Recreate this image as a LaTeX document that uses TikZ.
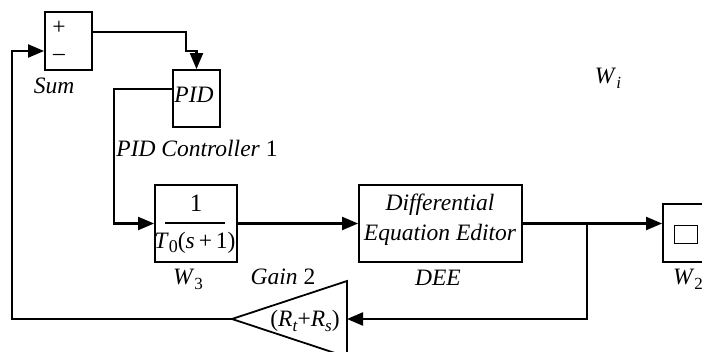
\documentclass[tikz,border=0pt]{standalone}
\usepackage{fontspec}
\setmainfont{Liberation Serif}
\usetikzlibrary{arrows.meta}
\newcommand{\lbsub}[1]{\raisebox{-0.22em}{\fontsize{17}{17}\selectfont #1}}
\newcommand{\lbsubb}[1]{\raisebox{-0.18em}{\fontsize{18}{18}\selectfont #1}}
\begin{document}
\begin{tikzpicture}[x=1pt,y=-1pt,
  blk/.style={draw,line width=1.8pt,inner sep=0pt},
  conn/.style={line width=2.1pt},
  arr/.style={conn,-{Triangle[length=16pt,width=13pt]}},
  txt/.style={inner sep=0pt,font=\fontsize{23.5}{27}\selectfont},
  lbl/.style={inner sep=0pt,font=\fontsize{23.5}{27}\selectfont\itshape},
  frac/.style={inner sep=0pt,font=\fontsize{25}{30}\selectfont},
  dens/.style={inner sep=0pt,font=\fontsize{23.5}{27}\selectfont}
]
\useasboundingbox (0,0) rectangle (702,352);
\clip (0,0) rectangle (702,352);
% blocks
\node[blk,minimum width=47pt,minimum height=58pt] (sum) at (68.5,41) {};
\node[txt] (plus) at (59,28) {+};
\node[txt] (minus) at (59,57) {\char"2013};
\node[lbl] (sumlbl) at (54,86) {Sum};

\node[blk,minimum width=47pt,minimum height=57pt] (pid) at (196.5,98.5) {};
\node[lbl] (pidtxt) at (194,95) {PID};
\node[txt] (pidlbl) at (197,148) {\textit{PID Controller} 1};

\node[blk,minimum width=82pt,minimum height=77pt] (w3) at (196,223.5) {};
\node[frac] (num) at (196,203) {1};
\draw[line width=1.1pt] (165,223) coordinate (fl) -- (225,223) coordinate (fr);
\node[dens] (den) at (195,243) {\textit{T}\lbsubb{0}(\textit{s}\,+\,1)};
\node[txt] (w3lbl) at (188,279) {\textit{W}\lbsub{3}};

\node[blk,minimum width=163pt,minimum height=77pt] (dee) at (440.5,223.5) {};
\node[lbl] (d1) at (440,205) {Differential};
\node[lbl] (d2) at (440,235) {Equation Editor};
\node[lbl] (deelbl) at (438,278) {DEE};

\node[blk,minimum width=45pt,minimum height=58pt] (w2) at (685.5,233) {};
\node[draw,line width=0.8pt,minimum width=23pt,minimum height=18pt,inner sep=0pt] (w2in) at (685.5,234) {};
\node[txt] (w2lbl) at (688,279) {\textit{W}\lbsub{2}};

\node[txt] (wi) at (608,78) {\textit{W}\lbsub{\textit{i}}};

% gain triangle
\coordinate (gtip) at (232,319);
\coordinate (gtop) at (347,281);
\coordinate (gbot) at (347,357);
\coordinate (gin) at (347,319);
\draw[line width=1.8pt,line join=miter] (gtip) -- (gtop) -- (gbot) -- cycle;
\node[txt] (gtxt) at (305,321) {(\textit{R}\lbsub{\textit{t}}+\textit{R}\lbsub{\textit{s}})};
\node[lbl] (gainlbl) at (283,277) {Gain \upshape 2};

% connectors
\draw[arr] ([yshift=9pt]sum.east) -- ++(93,0) -- ++(0,19) -| (pid.north);
\draw[arr] ([yshift=9.5pt]pid.west) -- ++(-58,0) |- (w3.west);
\draw[arr] (w3.east) -- (dee.west);
\draw[arr] (dee.east) -- (w2.west |- dee.east);
\coordinate (br) at (587,223.5);
\draw[arr] (br) |- (gin);
\coordinate (fbl) at (12,319);
\draw[arr] (gtip) -- (fbl) |- ([yshift=-10pt]sum.west);
\end{tikzpicture}
\end{document}
